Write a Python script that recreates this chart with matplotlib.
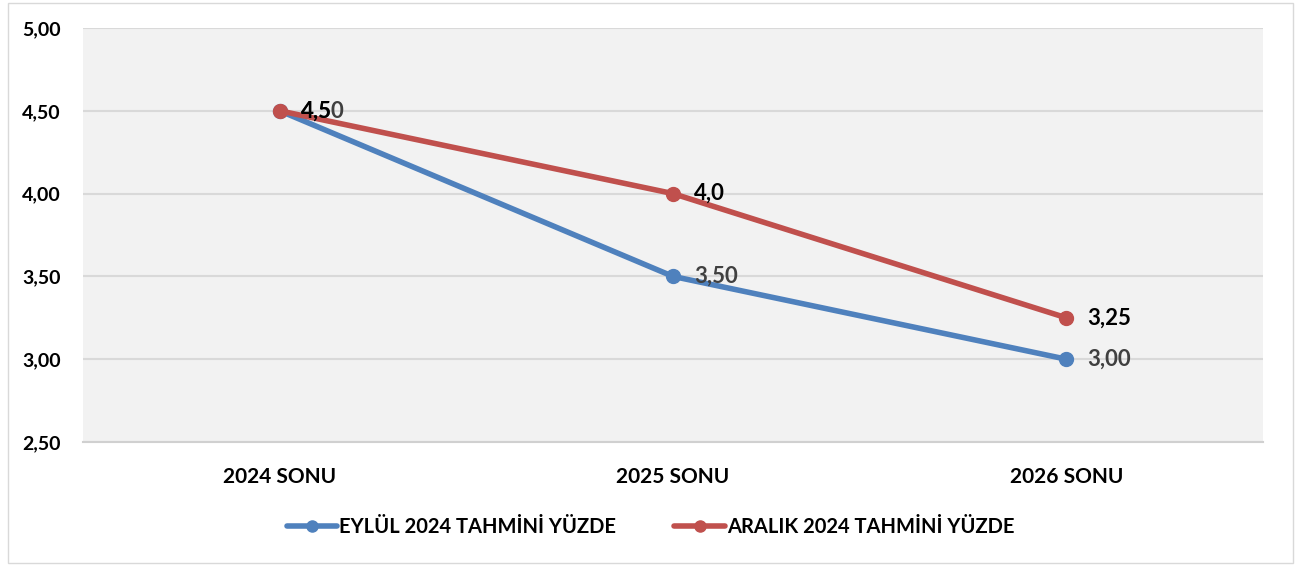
import matplotlib
matplotlib.use("Agg")
import matplotlib.pyplot as plt
from matplotlib.patches import Rectangle

plt.rcParams['font.family'] = ['Lato', 'DejaVu Sans']

categories = ["2024 SONU", "2025 SONU", "2026 SONU"]
eylul = [4.50, 3.50, 3.00]
aralik = [4.50, 4.00, 3.25]
eylul_labels = ["4,50", "3,50", "3,00"]
aralik_labels = ["4,5", "4,0", "3,25"]
yticks = [2.5, 3.0, 3.5, 4.0, 4.5, 5.0]
ytick_labels = ["2,50", "3,00", "3,50", "4,00", "4,50", "5,00"]

C_BLUE = "#4F81BD"
C_RED = "#C0504D"

fig = plt.figure(figsize=(13.01, 5.65), dpi=100)
ax = fig.add_axes([83/1301, 1 - 442/565, 1180/1301, 414/565])
ax.set_facecolor("#F2F2F2")

x = range(len(categories))
ax.plot(x, eylul, color=C_BLUE, lw=4, marker="o", ms=10, solid_capstyle="round",
        label="EYLÜL 2024 TAHMİNİ YÜZDE", zorder=3)
ax.plot(x, aralik, color=C_RED, lw=4, marker="o", ms=10, solid_capstyle="round",
        label="ARALIK 2024 TAHMİNİ YÜZDE", zorder=4)

# data labels
for i, (v, s) in enumerate(zip(eylul, eylul_labels)):
    ax.annotate(s, (i, v), xytext=(15, 0), textcoords="offset points",
                va="center", ha="left", fontsize=16, fontweight="bold",
                color="#404040", zorder=5)
for i, (v, s) in enumerate(zip(aralik, aralik_labels)):
    ax.annotate(s, (i, v), xytext=(15, 0), textcoords="offset points",
                va="center", ha="left", fontsize=16, fontweight="bold",
                color="black", zorder=6)

ax.set_xlim(-0.5, 2.5)
ax.set_ylim(2.5, 5.0)
ax.set_yticks(yticks)
ax.set_yticklabels(ytick_labels, fontsize=14, fontweight="bold")
ax.set_xticks(list(x))
ax.set_xticklabels(categories, fontsize=15, fontweight="bold")
ax.tick_params(length=0)
ax.tick_params(axis="y", pad=16)
ax.tick_params(axis="x", pad=18)
ax.grid(axis="y", color="#D9D9D9", lw=1.5)
ax.set_axisbelow(True)
for sp in ["top", "right", "left"]:
    ax.spines[sp].set_visible(False)
ax.spines["bottom"].set_color("#D0D0D0")
ax.spines["bottom"].set_linewidth(1.5)

leg = fig.legend(loc="center", bbox_to_anchor=(0.5, 1 - 527/565), ncol=2,
                 frameon=False, prop={"size": 14.5, "weight": "bold"},
                 handlelength=2.5, handletextpad=0.1, columnspacing=2.9,
                 markerscale=0.8)

# outer border
fig.add_artist(Rectangle((8/1301, 2/565), 1285/1301, 560/565, transform=fig.transFigure,
                         fill=False, edgecolor="#D9D9D9", lw=1))

fig.savefig("out.png", dpi=100, facecolor="white")
